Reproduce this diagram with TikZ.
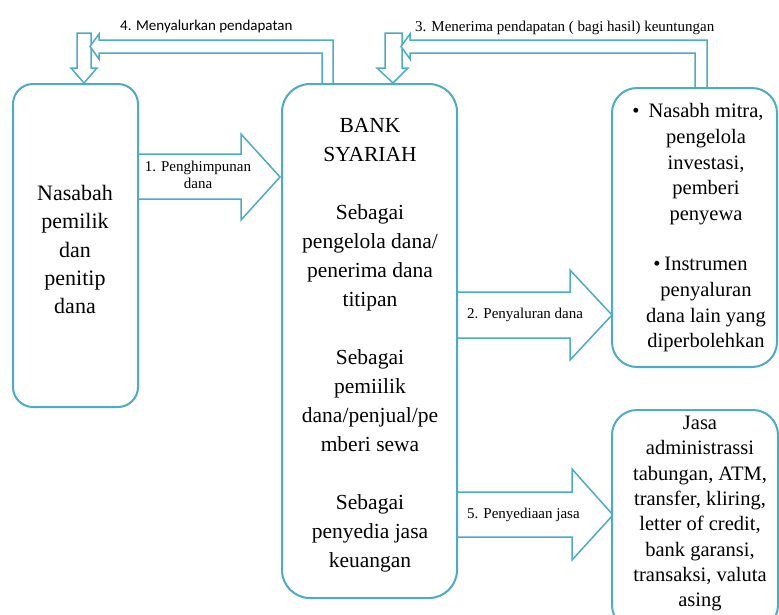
\documentclass[tikz,border=0pt]{standalone}
\usepackage{fontspec}
\setmainfont{Liberation Serif}
\newfontfamily\calfont{Carlito}
\definecolor{acc}{RGB}{75,172,198}
\begin{document}
\begin{tikzpicture}[x=1pt,y=-1pt,
  box/.style={draw=acc,line width=2pt,fill=white,rounded corners=#1,inner sep=0pt},
  box/.default=20pt,
  blk/.style={draw=acc,line width=1.5pt,fill=white,line join=miter},
  txt/.style={inner sep=0pt,align=center,text=black},
  lab/.style={inner sep=0pt,text=black,font={\fontsize{15}{17}\selectfont}}
]
\useasboundingbox (0,0) rectangle (779,614);
\clip (0,0) rectangle (779,614);

% block arrows
\draw[blk] (137,154) -- (241,154) -- (241,134) -- (280,177) -- (241,220) -- (241,199) -- (137,199) -- cycle;
\draw[blk] (457,292) -- (570,292) -- (570,270) -- (612,315) -- (570,360) -- (570,338) -- (457,338) -- cycle;
\draw[blk] (457,492) -- (572,492) -- (572,469) -- (613,515) -- (572,560) -- (572,537) -- (457,537) -- cycle;

% down arrows
\draw[blk] (77,33) -- (91,33) -- (91,68) -- (97,68) -- (84,83) -- (71,68) -- (77,68) -- cycle;
\draw[blk] (385,33) -- (402,33) -- (402,68) -- (408,68) -- (393,83) -- (377,68) -- (385,68) -- cycle;

% bent arrows
\draw[blk] (322,84) -- (322,53) -- (99,53) -- (99,59) -- (90,46.5) -- (99,34) -- (99,40) -- (333,40) -- (333,84);
\draw[blk] (695,88) -- (695,53) -- (410,53) -- (410,59) -- (401,46.5) -- (410,34) -- (410,40) -- (707,40) -- (707,88);

% boxes
\node[box=20pt, minimum width=125pt, minimum height=323pt] (nas) at (75.5,245.5) {};
\node[box=28pt, minimum width=175pt, minimum height=514pt] (bank) at (369.5,341) {};
\node[box=25pt, minimum width=165pt, minimum height=279pt] (mitra) at (694.5,227.5) {};
\node[box=25pt, minimum width=166pt, minimum height=220pt] (jasa) at (695,520) {};

% box texts
\node[txt, anchor=north, font={\fontsize{22}{28.3}\selectfont}] (tnas) at (75,185)
  {Nasabah\\pemilik\\dan\\penitip\\dana};
\node[txt, anchor=north, font={\fontsize{21.5}{29}\selectfont}] (tbank) at (370,118)
  {BANK\\SYARIAH\\[29pt]Sebagai\\pengelola dana/\\penerima dana\\titipan\\[29pt]Sebagai\\pemiilik\\dana/penjual/pe\\mberi sewa\\[29pt]Sebagai\\penyedia jasa\\keuangan};
\node[txt, anchor=north, font={\fontsize{20.5}{25.8}\selectfont}] (tmitra) at (706,103)
  {\llap{\textbullet\hspace{9pt}}Nasabh mitra,\\pengelola\\investasi,\\pemberi\\penyewa\\[24pt]\llap{\textbullet\hspace{4pt}}Instrumen\\penyaluran\\dana lain yang\\diperbolehkan};
\node[txt, anchor=north, font={\fontsize{20.5}{25.3}\selectfont}] (tjasa) at (700,416)
  {Jasa\\administrassi\\tabungan, ATM,\\transfer, kliring,\\letter of credit,\\bank garansi,\\transaksi, valuta\\asing};

% arrow labels
\node[lab, align=center, anchor=north] (l1) at (198,161) {1. Penghimpunan\\dana};
\node[lab, anchor=base west] (l2) at (467,318.5) {2. Penyaluran dana};
\node[lab, anchor=base west] (l5) at (467,518.5) {5. Penyediaan jasa};
\node[lab, anchor=base west] (l3) at (415,31) {3. Menerima pendapatan ( bagi hasil) keuntungan};
\node[lab, anchor=base west, font={\calfont\fontsize{15}{17}\selectfont}] (l4) at (120,30) {4. Menyalurkan pendapatan};
\end{tikzpicture}
\end{document}
